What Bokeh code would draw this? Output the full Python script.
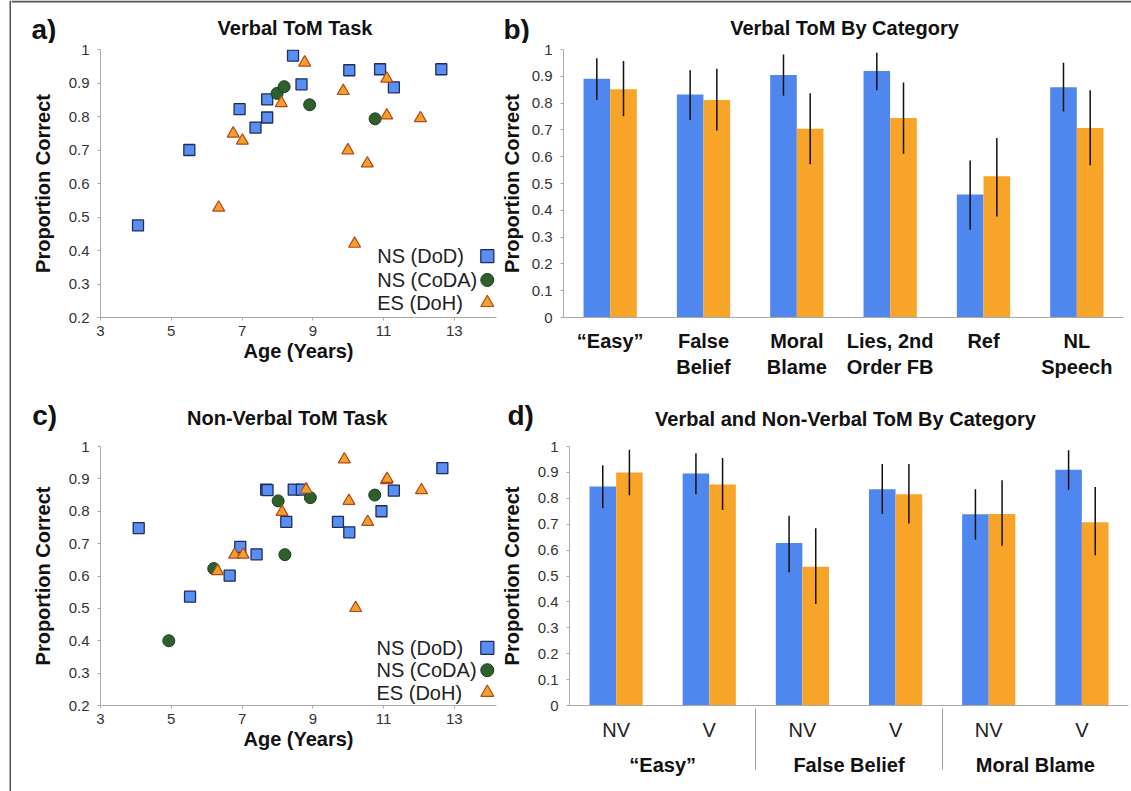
from bokeh.plotting import figure
from bokeh.models import (FactorRange, Label, BoxAnnotation, FixedTicker,
                          CustomJSTickFormatter, ColumnDataSource, Range1d)
from bokeh.transform import dodge
from bokeh.layouts import column, row
from bokeh.embed import file_html
from bokeh.resources import INLINE

FONT = "Liberation Sans"
BLUE = "#5087ee"
ORANGE = "#f8a428"

# ---------------- Panel a: Verbal ToM Task (scatter) ----------------
a_dod_age = [4.06, 5.51, 6.93, 7.38, 7.71, 7.71, 8.44, 8.68, 10.03, 10.90, 11.29, 12.63]
a_dod_prop = [0.475, 0.700, 0.822, 0.767, 0.851, 0.797, 0.982, 0.896, 0.938, 0.941, 0.887, 0.941]
a_coda_age = [7.99, 8.19, 8.91, 10.76]
a_coda_prop = [0.869, 0.889, 0.835, 0.793]
a_doh_age = [8.77, 11.09, 9.86, 8.11, 11.09, 12.04, 6.75, 7.01, 9.99, 10.54, 6.34, 10.18]
a_doh_prop = [0.961, 0.913, 0.876, 0.840, 0.803, 0.795, 0.749, 0.728, 0.699, 0.660, 0.528, 0.420]

# ---------------- Panel c: Non-Verbal ToM Task (scatter) ----------------
c_dod_age = [4.08, 5.53, 6.65, 6.95, 7.41, 7.68, 7.72, 8.25, 8.46, 8.69, 9.71, 10.03, 10.94, 11.29, 12.66]
c_dod_prop = [0.748, 0.536, 0.601, 0.690, 0.667, 0.867, 0.865, 0.767, 0.867, 0.867, 0.767, 0.735, 0.800, 0.864, 0.933]
c_coda_age = [4.93, 6.20, 8.02, 8.21, 8.93, 10.75]
c_coda_prop = [0.400, 0.623, 0.832, 0.666, 0.842, 0.850]
c_doh_age = [9.89, 11.08, 11.10, 12.07, 8.81, 10.02, 8.13, 10.55, 6.79, 7.03, 6.31, 10.21]
c_doh_prop = [0.960, 0.896, 0.900, 0.865, 0.867, 0.832, 0.798, 0.767, 0.666, 0.666, 0.615, 0.501]

legend_labels = ["NS (DoD)", "NS (CoDA)", "ES (DoH)"]
age_ticks = [3, 5, 7, 9, 11, 13]
prop_ticks_scatter = [0.2, 0.3, 0.4, 0.5, 0.6, 0.7, 0.8, 0.9, 1.0]
prop_ticks_bar = [0.0, 0.1, 0.2, 0.3, 0.4, 0.5, 0.6, 0.7, 0.8, 0.9, 1.0]

# ---------------- Panel b: Verbal ToM by category ----------------
b_categories = ["\u201cEasy\u201d", "False\nBelief", "Moral\nBlame", "Lies, 2nd\nOrder FB", "Ref", "NL\nSpeech"]
b_ns = [0.891, 0.832, 0.905, 0.920, 0.459, 0.859]
b_ns_lo = [0.812, 0.737, 0.827, 0.848, 0.327, 0.769]
b_ns_hi = [0.967, 0.923, 0.981, 0.988, 0.586, 0.951]
b_es = [0.852, 0.812, 0.704, 0.744, 0.527, 0.707]
b_es_lo = [0.751, 0.698, 0.572, 0.611, 0.377, 0.568]
b_es_hi = [0.957, 0.928, 0.837, 0.877, 0.670, 0.848]

# ---------------- Panel d: Verbal and Non-Verbal ToM by category ----------------
d_groups = ["\u201cEasy\u201d", "False Belief", "Moral Blame"]
d_tasks = ["NV", "V"]
d_ns = [0.846, 0.896, 0.627, 0.835, 0.738, 0.910]
d_ns_lo = [0.762, 0.816, 0.514, 0.739, 0.640, 0.833]
d_ns_hi = [0.928, 0.974, 0.733, 0.932, 0.835, 0.986]
d_es = [0.900, 0.853, 0.536, 0.816, 0.739, 0.708]
d_es_lo = [0.812, 0.755, 0.392, 0.703, 0.617, 0.580]
d_es_hi = [0.987, 0.956, 0.684, 0.932, 0.870, 0.844]

titles = ["Verbal ToM Task", "Verbal ToM By Category",
          "Non-Verbal ToM Task", "Verbal and Non-Verbal ToM By Category"]
letters = ["a)", "b)", "c)", "d)"]

tick_fmt = CustomJSTickFormatter(code="return (Math.round(tick*10)/10).toString();")


def base_style(p):
    p.outline_line_color = None
    p.xgrid.visible = False
    p.ygrid.visible = False
    p.background_fill_color = "white"
    p.border_fill_color = "white"
    for ax in p.axis:
        ax.axis_line_color = "#aaaaaa"
        ax.axis_line_width = 1
        ax.major_tick_line_color = "#aaaaaa"
        ax.minor_tick_line_color = None
        ax.major_tick_in = 0
        ax.major_tick_out = 3
        ax.major_label_text_font = FONT
        ax.major_label_text_font_size = "15px"
        ax.major_label_text_color = "#333333"
        ax.axis_label_text_font = FONT
        ax.axis_label_text_font_size = "20px"
        ax.axis_label_text_font_style = "bold"
        ax.axis_label_text_color = "#111111"
    p.yaxis.major_label_standoff = 8
    p.yaxis.axis_label_standoff = 12
    p.yaxis.axis_label = "Proportion Correct"


def add_label(p, x, y, text, size, bold=False, align="left", baseline="alphabetic",
              color="#111111"):
    p.add_layout(Label(x=x, y=y, text=text,
                       text_font=FONT, text_font_size=f"{size}px",
                       text_font_style="bold" if bold else "normal",
                       text_align=align, text_baseline=baseline, text_color=color))


SHIFT = 7  # the strips' drawing area shows up this many pixels lower than its box


def strip(width, height, x0, y0):
    # a plain drawing strip whose data coordinates equal page pixels
    s = figure(width=width, height=height, x_range=Range1d(x0, x0 + width),
               y_range=Range1d(y0 + SHIFT + height, y0 + SHIFT), x_axis_type=None, y_axis_type=None,
               title_location=None,
               min_border=0, min_border_left=0, min_border_right=0, min_border_top=0,
               min_border_bottom=0, output_backend="svg", toolbar_location=None)
    s.outline_line_color = None
    s.xgrid.visible = False
    s.ygrid.visible = False
    s.background_fill_color = "white"
    s.border_fill_color = "white"
    return s


MARK = dict(
    sq=dict(marker="square", fill_color="#5b8ef2", line_color="#1c2d5e", line_width=1.3),
    ci=dict(marker="circle", fill_color="#2f5f2f", line_color="#1d3d1d", line_width=1.0),
    tr=dict(marker="triangle", fill_color="#f6a02c", line_color="#b3471c", line_width=1.2),
)


def scatter_panel(width, height, mtop, mbottom, dod, coda, doh, leg_x, leg_y):
    p = figure(width=width, height=height, x_range=Range1d(3, 14.19), y_range=Range1d(0.2, 1.0),
               title_location=None,
               min_border_left=89, min_border_right=1, min_border_top=mtop,
               min_border_bottom=mbottom, output_backend="svg", toolbar_location=None)
    base_style(p)
    p.xaxis.ticker = FixedTicker(ticks=age_ticks)
    p.yaxis.ticker = FixedTicker(ticks=prop_ticks_scatter)
    p.yaxis.formatter = tick_fmt
    p.xaxis.axis_label = "Age (Years)"
    p.xaxis.major_label_standoff = 5
    p.xaxis.axis_label_standoff = 1
    p.scatter(dod[0], dod[1], size=11, **MARK["sq"])
    p.scatter(coda[0], coda[1], size=12, **MARK["ci"])
    p.scatter(doh[0], doh[1], size=12, **MARK["tr"])
    for lab, ly, key in zip(legend_labels, leg_y, ["sq", "ci", "tr"]):
        add_label(p, leg_x, ly, lab, 20, baseline="middle", color="#222222")
        p.scatter([13.93], [ly], size=13, **MARK[key])
    return p


BW = 0.285
OFF = 0.143


def bar_panel(width, height, factors, mleft, mright, mtop, mbottom, ns, ns_lo, ns_hi, es, es_lo, es_hi):
    xr = FactorRange(*factors, range_padding=0, group_padding=0, factor_padding=0)
    p = figure(width=width, height=height, x_range=xr, y_range=Range1d(0, 1),
               title_location=None,
               min_border_left=mleft, min_border_right=mright, min_border_top=mtop,
               min_border_bottom=mbottom, output_backend="svg", toolbar_location=None)
    base_style(p)
    p.yaxis.ticker = FixedTicker(ticks=prop_ticks_bar)
    p.yaxis.formatter = tick_fmt
    src = ColumnDataSource(dict(cat=factors, ns=ns, ns_lo=ns_lo, ns_hi=ns_hi,
                                es=es, es_lo=es_lo, es_hi=es_hi))
    p.vbar(x=dodge("cat", -OFF, range=xr), top="ns", width=BW, source=src,
           fill_color=BLUE, line_color=None)
    p.vbar(x=dodge("cat", OFF, range=xr), top="es", width=BW, source=src,
           fill_color=ORANGE, line_color=None)
    p.segment(x0=dodge("cat", -OFF, range=xr), x1=dodge("cat", -OFF, range=xr),
              y0="ns_lo", y1="ns_hi", source=src, line_color="#111111", line_width=1.5)
    p.segment(x0=dodge("cat", OFF, range=xr), x1=dodge("cat", OFF, range=xr),
              y0="es_lo", y1="es_hi", source=src, line_color="#111111", line_width=1.5)
    p.xaxis.major_tick_line_color = None
    p.xaxis.major_label_text_font = FONT
    p.xaxis.major_label_text_font_size = "20px"
    p.xaxis.major_label_text_color = "#111111"
    return p


# ---------- top strip: page y 0..43 ----------
top = strip(1120, 43, 11, 0)
top.add_layout(BoxAnnotation(left=11, right=1131, top=7, bottom=9, fill_color="#555555",
                             fill_alpha=1, line_color=None))
add_label(top, 31, 35.5, letters[0], 28, bold=True)
add_label(top, 294.5, 34.3, titles[0], 20, bold=True, align="center")
add_label(top, 503, 35.5, letters[1], 28, bold=True)
add_label(top, 844, 34.3, titles[1], 20, bold=True, align="center")

# ---------- Panel a ----------
pa = scatter_panel(486, 337, 6, 60, (a_dod_age, a_dod_prop), (a_coda_age, a_coda_prop),
                   (a_doh_age, a_doh_prop), 10.82, [0.383, 0.312, 0.244])

# ---------- Panel b ----------
pb = bar_panel(634, 337, b_categories, 60, 8, 5, 62, b_ns, b_ns_lo, b_ns_hi, b_es, b_es_lo, b_es_hi)
pb.xaxis.major_label_text_font_style = "bold"
pb.xaxis.major_label_standoff = 9
pb.yaxis.axis_label_standoff = 6

# ---------- middle strip: page y 380..433 ----------
mid = strip(1120, 53, 11, 380)
add_label(mid, 31.7, 422, letters[2], 28, bold=True)
add_label(mid, 286.7, 424, titles[2], 20, bold=True, align="center")
add_label(mid, 507, 422, letters[3], 28, bold=True)
add_label(mid, 845, 425, titles[3], 20, bold=True, align="center")

# ---------- Panel c ----------
pc = scatter_panel(486, 358, 9, 79, (c_dod_age, c_dod_prop), (c_coda_age, c_coda_prop),
                   (c_doh_age, c_doh_prop), 10.80, [0.378, 0.309, 0.240])

# ---------- Panel d ----------
d_factors = [(g, t) for g in d_groups for t in d_tasks]
pd_ = bar_panel(634, 358, d_factors, 69, 3, 13, 86, d_ns, d_ns_lo, d_ns_hi, d_es, d_es_lo, d_es_hi)
pd_.xaxis.major_label_text_font_style = "normal"
pd_.xaxis.major_label_text_color = "#222222"
pd_.xaxis.major_label_standoff = 10
pd_.xaxis.group_text_font = FONT
pd_.xaxis.group_text_font_size = "20px"
pd_.xaxis.group_text_font_style = "bold"
pd_.xaxis.group_text_color = "#111111"
pd_.xaxis.separator_line_color = "#9a9a9a"
pd_.xaxis.separator_line_width = 1

# ---------- left page border ----------
left = strip(11, 791, 0, 0)
left.add_layout(BoxAnnotation(left=9, right=11, top=7, bottom=800, fill_color="#555555",
                              fill_alpha=1, line_color=None))

layout = row(left, column(top, row(pa, pb), mid, row(pc, pd_)))
open("out.html", "w").write(file_html(layout, INLINE))
